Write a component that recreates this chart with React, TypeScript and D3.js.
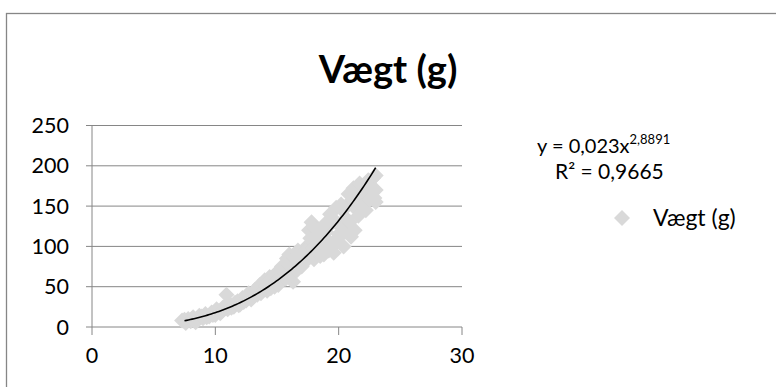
import React from "react";
import * as d3 from "d3";

const lengths = [7.3, 7.6, 7.8, 8.0, 8.2, 8.5, 8.7, 9.0, 9.2, 9.5, 9.7, 10.0, 10.2, 10.4, 10.6, 10.9, 11.0, 11.2, 11.5, 11.8, 12.0, 12.2, 12.5, 12.7, 13.0, 13.2, 13.4, 13.6, 13.8, 14.0, 14.2, 14.4, 14.6, 14.8, 15.0, 15.2, 15.4, 15.5, 15.8, 16.0, 16.0, 16.3, 16.5, 16.7, 17.0, 17.2, 17.4, 17.6, 17.8, 18.0, 18.2, 18.5, 18.7, 19.0, 19.2, 19.4, 19.6, 19.8, 20.0, 20.2, 20.4, 20.6, 20.8, 21.0, 21.2, 21.5, 21.8, 22.0, 22.3, 22.6, 22.8, 23.0, 23.0,
  7.5, 8.1, 8.4, 8.9, 9.3, 9.8, 10.1, 10.5, 10.8, 11.3, 11.6, 11.9, 12.3, 12.6, 12.9, 13.1, 13.5, 13.7, 13.9, 14.1, 14.3, 14.5, 14.7, 14.9, 15.1, 15.3, 15.6, 15.7, 15.9, 16.2, 16.4, 16.6, 16.8, 16.9, 17.1, 17.3, 17.5, 17.7, 17.9, 18.1, 18.3, 18.4, 18.6, 18.8, 18.9, 19.1, 19.3, 19.5, 19.7, 19.9, 20.1, 20.3, 20.5, 20.7, 20.9, 21.1, 21.3, 21.4, 21.6, 21.7, 21.9, 22.1, 22.2, 22.4, 22.5, 22.7, 22.9, 23.0];
const weights = [8, 5, 10, 7, 12, 9, 14, 11, 16, 13, 18, 15, 20, 17, 24, 40, 22, 28, 25, 32, 28, 36, 33, 42, 37, 46, 40, 52, 47, 58, 45, 62, 55, 50, 68, 58, 75, 63, 85, 72, 90, 56, 80, 95, 75, 88, 100, 120, 130, 84, 110, 88, 102, 118, 95, 128, 92, 148, 115, 152, 100, 135, 165, 112, 172, 145, 160, 150, 175, 165, 185, 155, 170,
  9, 10, 6, 13, 12, 15, 22, 19, 26, 24, 30, 27, 31, 38, 34, 40, 45, 42, 54, 51, 56, 48, 62, 57, 52, 70, 68, 60, 78, 65, 86, 70, 82, 90, 80, 95, 84, 110, 98, 122, 95, 115, 105, 90, 128, 108, 140, 100, 132, 110, 125, 145, 118, 150, 130, 158, 120, 165, 138, 178, 150, 168, 145, 182, 158, 172, 160, 188];

const xTicks = [0, 10, 20, 30];
const yTicks = [0, 50, 100, 150, 200, 250];
const trendCoef = 0.023;
const trendExp = 2.8891;
const trendRange = [7.5, 23];

const title = "Vægt (g)";
const seriesName = "Vægt (g)";

const FONT = "Lato, 'Open Sans', sans-serif";
const GRID = "#868686";
const MARK = "#d9d9d9";

export default function App() {
  const x = d3.scaleLinear().domain([0, 30]).range([92, 462]);
  const y = d3.scaleLinear().domain([0, 250]).range([327, 125.5]);

  const trendPts = d3.range(0, 101).map((i) => {
    const xv = trendRange[0] + ((trendRange[1] - trendRange[0]) * i) / 100;
    return [xv, trendCoef * Math.pow(xv, trendExp)] as [number, number];
  });
  const line = d3
    .line<[number, number]>()
    .x((d) => x(d[0]))
    .y((d) => y(d[1]));

  const diamond = (cx: number, cy: number, r: number) =>
    `M${cx},${cy - r}L${cx + r},${cy}L${cx},${cy + r}L${cx - r},${cy}Z`;

  return (
    <svg
      width={776}
      height={387}
      style={{ position: "absolute", left: 0, top: 0, background: "#fff" }}
    >
      <rect x={0} y={0} width={776} height={387} fill="#fff" />
      <rect x={6.5} y={13.5} width={800} height={400} fill="none" stroke={GRID} strokeWidth={1.3} />
      <text x={388} y={83} textAnchor="middle" fontFamily={FONT} fontWeight="bold" fontSize={38} fill="#000">
        {title}
      </text>
      {yTicks.map((t) => (
        <g key={"y" + t}>
          <line x1={86} x2={x(30)} y1={y(t)} y2={y(t)} stroke={GRID} strokeWidth={1} />
          <text x={69} y={y(t) + 7.5} textAnchor="end" fontFamily={FONT} fontSize={21.5} fill="#000">
            {t}
          </text>
        </g>
      ))}
      <line x1={x(0)} x2={x(0)} y1={y(250)} y2={y(0)} stroke={GRID} strokeWidth={1} />
      {xTicks.map((t) => (
        <g key={"x" + t}>
          <line x1={x(t)} x2={x(t)} y1={y(0)} y2={y(0) + 8} stroke={GRID} strokeWidth={1} />
          <text x={x(t)} y={363} textAnchor="middle" fontFamily={FONT} fontSize={21.5} fill="#000">
            {t}
          </text>
        </g>
      ))}
      {lengths.map((l, i) => (
        <path key={"p" + i} d={diamond(x(l), y(weights[i]), 8)} fill={MARK} />
      ))}
      <path d={line(trendPts) || ""} fill="none" stroke="#000" strokeWidth={1.6} />
      <text x={537} y={153} fontFamily={FONT} fontSize={20} fill="#000">
        y = 0,023x
        <tspan dy={-9} fontSize={13}>2,8891</tspan>
      </text>
      <text x={555} y={179} fontFamily={FONT} fontSize={21} fill="#000">
        R² = 0,9665
      </text>
      <path d={diamond(622, 218, 8)} fill={MARK} />
      <text x={653} y={226} fontFamily={FONT} fontSize={23} fill="#000">
        {seriesName}
      </text>
    </svg>
  );
}
